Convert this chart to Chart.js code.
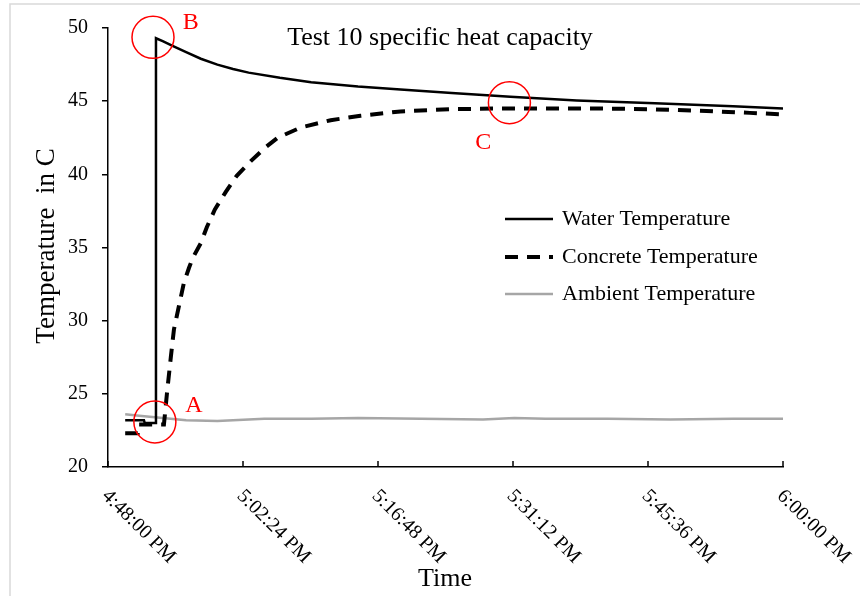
<!DOCTYPE html>
<html>
<head>
<meta charset="utf-8">
<script src="https://cdn.jsdelivr.net/npm/chart.js@4/dist/chart.umd.min.js"></script>
<style>
  html, body { margin: 0; padding: 0; background: #fff; }
  #wrap { width: 860px; height: 596px; position: relative; }
</style>
</head>
<body>
<div id="wrap"><canvas id="tempCanvas" width="860" height="596"></canvas></div>
<script>
// seconds after 4:48:00 PM
var tickTimes = [0, 864, 1728, 2592, 3456, 4320];
var tickLabels = ['4:48:00 PM', '5:02:24 PM', '5:16:48 PM', '5:31:12 PM', '5:45:36 PM', '6:00:00 PM'];

var waterTime = [110, 230, 235, 305, 307, 350, 420, 500, 594, 700, 800, 900, 1100, 1300, 1600, 1872, 2200, 2575, 3000, 3500, 4000, 4320];
var waterTemp = [23.2, 23.2, 23.0, 23.0, 49.3, 49.1, 48.75, 48.35, 47.9, 47.5, 47.2, 46.95, 46.6, 46.3, 46.0, 45.8, 45.55, 45.3, 45.05, 44.85, 44.65, 44.5];

var concreteTime = [110, 190, 195, 358, 377, 402, 422, 454, 486, 518, 543, 594, 633, 684, 754, 824, 914, 1003, 1086, 1233, 1425, 1616, 1872, 2192, 2511, 2830, 3150, 3469, 3789, 4108, 4320];
var concreteTemp = [22.3, 22.3, 22.9, 22.9, 25.0, 27.5, 29.4, 31.0, 32.6, 33.6, 34.3, 35.3, 36.4, 37.6, 38.8, 39.9, 40.9, 41.8, 42.5, 43.2, 43.7, 44.0, 44.3, 44.45, 44.5, 44.5, 44.5, 44.45, 44.35, 44.2, 44.1];

var ambientTime = [110, 200, 300, 400, 500, 700, 800, 1000, 1300, 1600, 2000, 2400, 2600, 2800, 3200, 3600, 4000, 4320];
var ambientTemp = [23.6, 23.5, 23.4, 23.3, 23.2, 23.15, 23.2, 23.3, 23.3, 23.35, 23.3, 23.25, 23.35, 23.3, 23.3, 23.25, 23.3, 23.3];

var seriesNames = ['Water Temperature', 'Concrete Temperature', 'Ambient Temperature'];

// red markers A, B, C
var markLetters = ['A', 'B', 'C'];
var markTime = [300, 288, 2569];
var markTemp = [23.08, 49.36, 44.9];
var letterTime = [550, 530, 2402];
var letterTemp = [24.17, 50.38, 42.14];

function toPoints(xs, ys) {
    var pts = [];
    for (var i = 0; i < xs.length; i++) pts.push({ x: xs[i], y: ys[i] });
    return pts;
}

var serif = "'Liberation Serif', 'Times New Roman', serif";

var extras = {
    id: 'extras',
    afterDraw: function (chart) {
        var ctx = chart.ctx;
        var xs = chart.scales.x, ys = chart.scales.y;
        var area = chart.chartArea;
        ctx.save();

        // outer frame
        ctx.strokeStyle = '#d9d9d9';
        ctx.lineWidth = 1.5;
        ctx.strokeRect(10, 4, 900, 700);

        // x ticks, pointing inward
        ctx.strokeStyle = '#000';
        ctx.lineWidth = 1.5;
        tickTimes.forEach(function (t) {
            var px = xs.getPixelForValue(t);
            ctx.beginPath();
            ctx.moveTo(px, area.bottom);
            ctx.lineTo(px, area.bottom - 6);
            ctx.stroke();
        });

        // x tick labels, rotated
        ctx.fillStyle = '#000';
        ctx.font = '20px ' + serif;
        ctx.textAlign = 'left';
        ctx.textBaseline = 'middle';
        tickTimes.forEach(function (t, i) {
            var px = xs.getPixelForValue(t);
            ctx.save();
            ctx.translate(px - 3, area.bottom + 26);
            ctx.rotate(Math.PI / 4);
            ctx.fillText(tickLabels[i], 0, 0);
            ctx.restore();
        });

        // axis titles
        ctx.font = '26px ' + serif;
        ctx.textAlign = 'center';
        ctx.fillText('Time', 445, 579);
        ctx.save();
        ctx.translate(47, 246);
        ctx.rotate(-Math.PI / 2);
        ctx.font = '27px ' + serif;
        ctx.fillText('Temperature  in C', 0, 0);
        ctx.restore();

        // title
        ctx.font = '26px ' + serif;
        ctx.fillText('Test 10 specific heat capacity', 440, 38);

        // legend
        var rows = [219, 257, 294];
        var ds = chart.data.datasets;
        ctx.font = '22px ' + serif;
        ctx.textAlign = 'left';
        for (var i = 0; i < rows.length; i++) {
            ctx.save();
            ctx.strokeStyle = ds[i].borderColor;
            ctx.lineWidth = ds[i].borderWidth;
            ctx.setLineDash(ds[i].borderDash || []);
            ctx.beginPath();
            ctx.moveTo(505, rows[i]);
            ctx.lineTo(553, rows[i]);
            ctx.stroke();
            ctx.restore();
            ctx.fillText(seriesNames[i], 562, rows[i]);
        }

        // markers
        ctx.strokeStyle = '#ff0000';
        ctx.fillStyle = '#ff0000';
        ctx.lineWidth = 1.5;
        ctx.font = '24px ' + serif;
        ctx.textAlign = 'center';
        for (var k = 0; k < markLetters.length; k++) {
            ctx.beginPath();
            ctx.arc(xs.getPixelForValue(markTime[k]), ys.getPixelForValue(markTemp[k]), 21, 0, Math.PI * 2);
            ctx.stroke();
            ctx.fillText(markLetters[k], xs.getPixelForValue(letterTime[k]), ys.getPixelForValue(letterTemp[k]));
        }
        ctx.restore();
    }
};

var ctx = document.getElementById('tempCanvas').getContext('2d');
new Chart(ctx, {
    type: 'line',
    data: {
        datasets: [{
            label: seriesNames[0],
            data: toPoints(waterTime, waterTemp),
            borderColor: '#000000',
            borderWidth: 2.5
        }, {
            label: seriesNames[1],
            data: toPoints(concreteTime, concreteTemp),
            borderColor: '#000000',
            borderWidth: 4,
            borderDash: [13, 9]
        }, {
            label: seriesNames[2],
            data: toPoints(ambientTime, ambientTemp),
            borderColor: '#a6a6a6',
            borderWidth: 2.5
        }]
    },
    options: {
        responsive: false,
        animation: false,
        devicePixelRatio: 1,
        layout: { padding: { left: 10, right: 77, top: 28, bottom: 0 } },
        elements: { point: { radius: 0 }, line: { tension: 0 } },
        plugins: { legend: { display: false }, tooltip: { enabled: false } },
        scales: {
            x: {
                type: 'linear', min: 0, max: 4320,
                ticks: { display: false, stepSize: 864 },
                grid: { display: false },
                border: { color: '#000', width: 1.5 },
                afterFit: function (s) { s.height = 129; }
            },
            y: {
                min: 20, max: 50,
                ticks: { stepSize: 5, color: '#000', padding: 14, font: { family: serif, size: 20 } },
                grid: { drawOnChartArea: false, drawTicks: true, tickLength: 6, color: '#000', lineWidth: 1.5 },
                border: { color: '#000', width: 1.5 },
                afterFit: function (s) { s.width = 98; }
            }
        }
    },
    plugins: [extras]
});
</script>
</body>
</html>
